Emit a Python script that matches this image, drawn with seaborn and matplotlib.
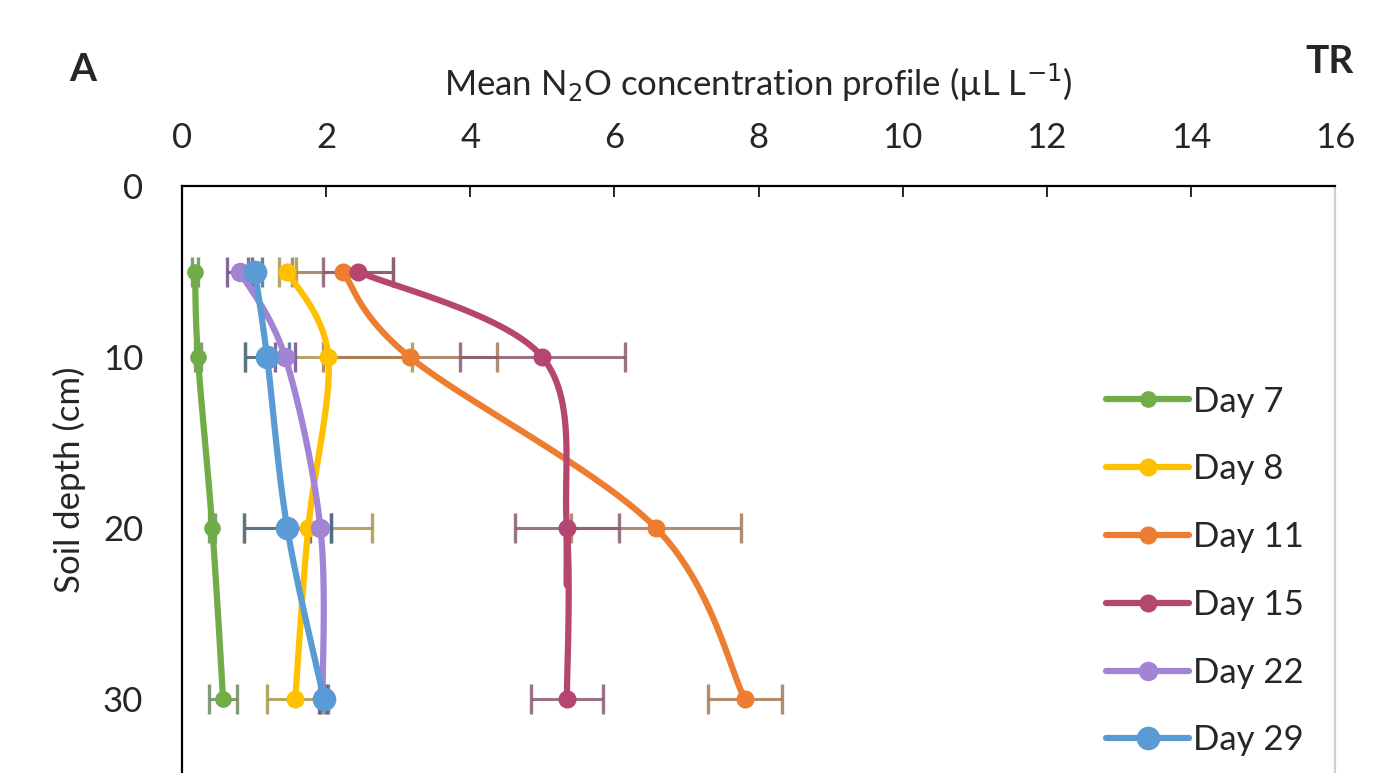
import matplotlib.pyplot as plt
import seaborn as sns
import numpy as np
import pandas as pd
from matplotlib.lines import Line2D

sns.set_theme(style="white")
plt.rcParams['font.family'] = ['Lato', 'DejaVu Sans']

# data
depths = [5, 10, 20, 30]
days = ['Day 7', 'Day 8', 'Day 11', 'Day 15', 'Day 22', 'Day 29']
day7 = [0.18, 0.22, 0.42, 0.57]
day8 = [1.46, 2.03, 1.75, 1.57]
day11 = [2.23, 3.16, 6.58, 7.81]
day15 = [2.44, 5.00, 5.34, 5.34]
day22 = [0.80, 1.43, 1.92, 1.95]
day29 = [1.01, 1.18, 1.46, 1.97]
err7 = [0.04, 0.04, 0.04, 0.19]
err8 = [0.12, 1.16, 0.89, 0.39]
err11 = [0.70, 1.21, 1.18, 0.51]
err15 = [0.49, 1.15, 0.72, 0.50]
err22 = [0.17, 0.14, 0.15, 0.05]
err29 = [0.10, 0.31, 0.60, 0.05]

values = [day7, day8, day11, day15, day22, day29]
errors = [err7, err8, err11, err15, err22, err29]
colors = ['#70AD47', '#FFC000', '#ED7D31', '#B5466F', '#A283D4', '#5B9BD5']
err_colors = ['#6F8A63', '#A8964E', '#A57A58', '#8A5A72', '#6F4F8F', '#4A6F8A']
msizes = [11, 12, 12, 12, 13, 16]


def smooth(x, y, n=30):
    # Excel-style smoothed line (Bezier with Catmull-Rom control points)
    p = np.column_stack([x, y]).astype(float)
    p = np.vstack([p[0], p, p[-1]])
    out = []
    t = np.linspace(0, 1, n)[:, None]
    for i in range(1, len(p) - 2):
        p0, p1, p2, p3 = p[i - 1], p[i], p[i + 1], p[i + 2]
        c1 = p1 + (p2 - p0) / 6
        c2 = p2 - (p3 - p1) / 6
        seg = ((1 - t) ** 3) * p1 + 3 * ((1 - t) ** 2) * t * c1 + 3 * (1 - t) * t ** 2 * c2 + t ** 3 * p2
        out.append(seg)
    out = np.vstack(out)
    return out[:, 0], out[:, 1]


fig = plt.figure(figsize=(13.93, 7.73), dpi=100)
ax = fig.add_axes([0.1307, 0.0, 0.8277, 0.7594])

for name, v, e, c, ec, ms in zip(days, values, errors, colors, err_colors, msizes):
    ax.errorbar(v, depths, xerr=e, fmt='none', ecolor=ec, elinewidth=2.2,
                capsize=11, capthick=2.4, alpha=0.85, zorder=2)
for name, v, e, c, ec, ms in zip(days, values, errors, colors, err_colors, msizes):
    sx, sy = smooth(v, depths)
    df = pd.DataFrame({'x': sx, 'y': sy})
    sns.lineplot(data=df, x='x', y='y', sort=False, color=c, linewidth=4.5, ax=ax, zorder=3)
    ax.plot(v, depths, 'o', color=c, markersize=ms, zorder=4)

ax.set_xlim(0, 16)
ax.set_ylim(34.3, 0)
ax.set_xticks(np.arange(0, 17, 2))
ax.set_yticks([0, 10, 20, 30])
ax.xaxis.tick_top()
ax.xaxis.set_label_position('top')
ax.tick_params(axis='x', direction='in', length=8, width=1.2, color='black',
               labelsize=25, pad=23, top=True, bottom=False)
ax.tick_params(axis='y', left=False, labelsize=25, pad=22)
ax.set_xlabel('Mean N$_2$O concentration profile (µL L$^{-1}$)', fontsize=25, labelpad=19)
ax.set_ylabel('Soil depth (cm)', fontsize=25, labelpad=12)

for s in ['top', 'left']:
    ax.spines[s].set_color('black')
    ax.spines[s].set_linewidth(1.6)
ax.spines['right'].set_color('#D0D0D0')
ax.spines['right'].set_linewidth(1.6)
ax.spines['bottom'].set_visible(False)

handles = [Line2D([0], [0], color=c, linewidth=4.5, marker='o', markersize=ms)
           for c, ms in zip(colors, msizes)]
ax.legend(handles, days, loc='lower right', bbox_to_anchor=(1.0, -0.025), frameon=False,
          fontsize=25, labelspacing=1.03, handlelength=2.4, handletextpad=0.1)

fig.text(0.05, 0.895, 'A', fontsize=28, fontweight='bold')
fig.text(0.937, 0.905, 'TR', fontsize=28, fontweight='bold')

fig.savefig('out.png', dpi=100)
